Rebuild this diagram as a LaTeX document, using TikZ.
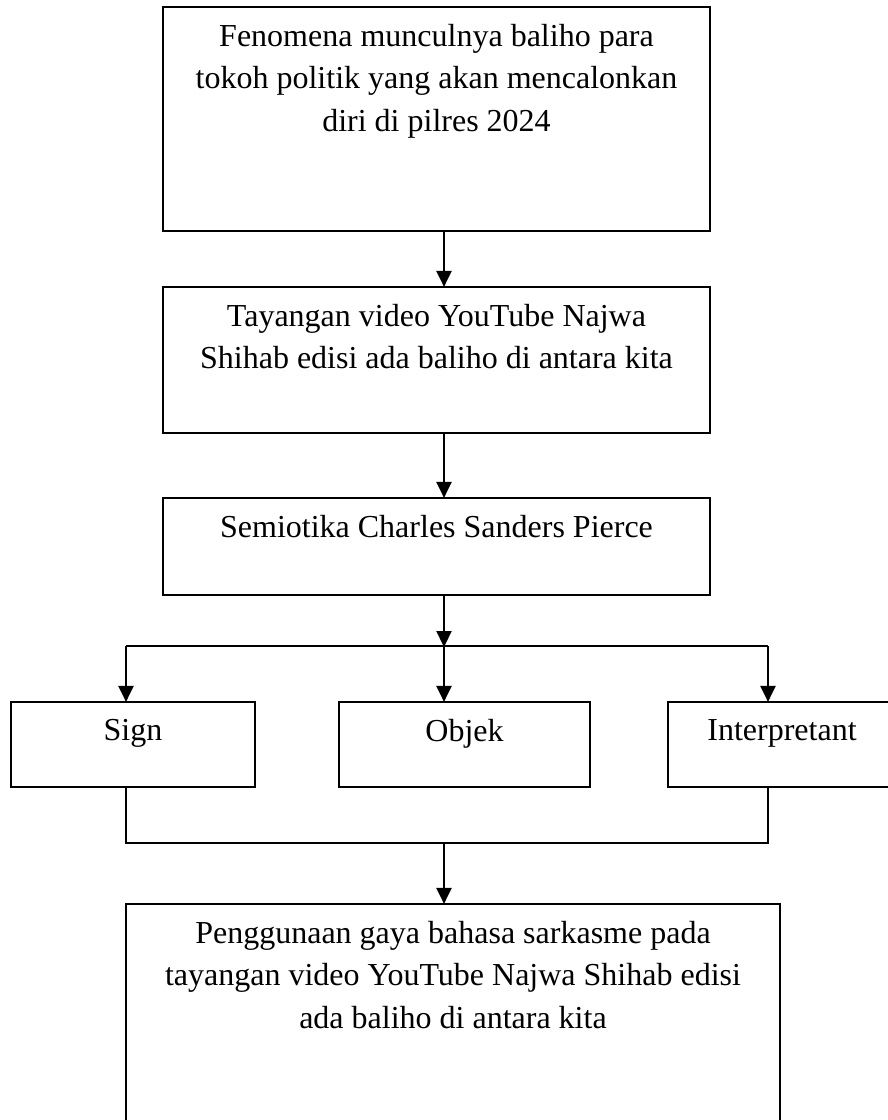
\documentclass[tikz,border=0pt]{standalone}
\usepackage{fontspec}
\setmainfont{Liberation Serif}
\usetikzlibrary{arrows.meta,calc}
\tikzset{
  box/.style={draw=black, line width=2.2pt, rectangle, inner sep=0pt, fill=none},
  lbl/.style={anchor=north, inner sep=0pt, align=center, font=\fontsize{32}{42.5}\selectfont},
  conn/.style={draw=black, line width=2.2pt},
  arr/.style={conn, -{Triangle[length=16pt,width=15pt]}, shorten >=-1pt}
}
\begin{document}
\begin{tikzpicture}[x=1pt,y=-1pt]
\useasboundingbox (0,0) rectangle (888,1120);
\fill[white] (0,0) rectangle (888,1120);
\clip (0,0) rectangle (888,1120);
% boxes
\node[box, minimum width=547pt, minimum height=224pt] (b1) at (436.5,119) {};
\node[box, minimum width=547pt, minimum height=146pt] (b2) at (436.5,360) {};
\node[box, minimum width=547pt, minimum height=97pt] (b3) at (436.5,546.5) {};
\node[box, minimum width=244pt, minimum height=85pt] (sign) at (133,744.5) {};
\node[box, minimum width=251pt, minimum height=85pt] (objek) at (464.5,744.5) {};
\node[box, minimum width=228pt, minimum height=85pt] (interp) at (782,744.5) {};
\node[box, minimum width=654pt, minimum height=227pt] (fin) at (453,1017.5) {};
% labels
\node[lbl] (t1) at ($(b1.north)+(0,18)$) {Fenomena munculnya baliho para\\tokoh politik yang akan mencalonkan\\diri di pilres 2024};
\node[lbl] (t2) at ($(b2.north)+(0,18)$) {Tayangan video YouTube Najwa\\Shihab edisi ada baliho di antara kita};
\node[lbl] (t3) at ($(b3.north)+(0,18)$) {Semiotika Charles Sanders Pierce};
\node[lbl] (t4) at ($(sign.north)+(0,18)$) {Sign};
\node[lbl] (t5) at ($(objek.north)+(0,18)$) {Objek};
\node[lbl] (t6) at ($(interp.north)+(0,18)$) {Interpretant};
\node[lbl] (t7) at ($(fin.north)+(0,18)$) {Penggunaan gaya bahasa sarkasme pada\\tayangan video YouTube Najwa Shihab edisi\\ada baliho di antara kita};
% helper coordinates
\coordinate (ax) at (444,0);
\coordinate (lx) at (126,0);
\coordinate (rx) at (768,0);
\coordinate (split) at (444,646);
\coordinate (join) at (444,843);
% connectors
\draw[arr] (b1.south -| ax) -- (b2.north -| ax);
\draw[arr] (b2.south -| ax) -- (b3.north -| ax);
\draw[arr] (b3.south -| ax) -- (split);
\draw[conn] (split -| lx) -- (split -| rx);
\draw[arr] (split -| lx) -- (sign.north -| lx);
\draw[arr] (split) -- (objek.north -| ax);
\draw[arr] (split -| rx) -- (interp.north -| rx);
\draw[conn] (sign.south -| lx) -- (join -| lx) -- (join -| rx) -- (interp.south -| rx);
\draw[arr] (join) -- (fin.north -| ax);
\end{tikzpicture}
\end{document}
